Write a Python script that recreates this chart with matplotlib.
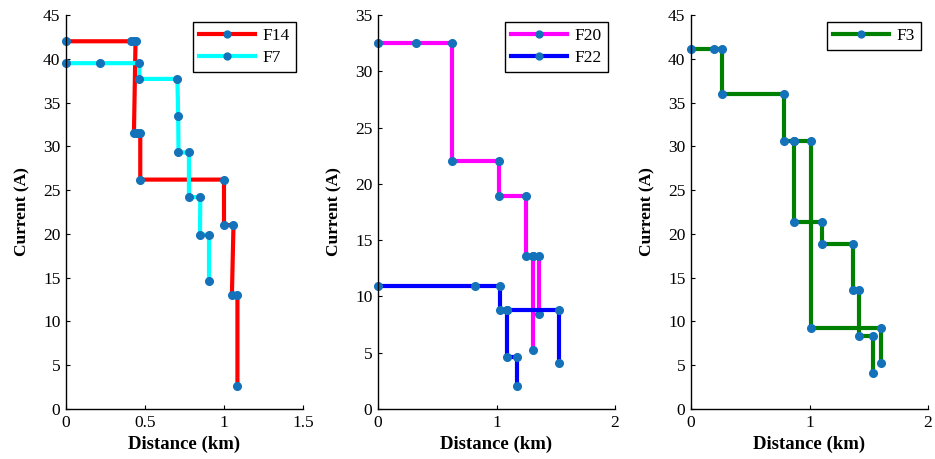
import numpy as np
import matplotlib
matplotlib.use("Agg")
import matplotlib.pyplot as plt

nan = np.nan

# Feeder current profiles: distance along feeder (km) vs. current (A)
f14_x = [0, 0.41, 0.43, 0.44, 0.43, 0.45, 0.47, 0.47, 1.00, 1.00, 1.06, 1.05, 1.085, 1.085]
f14_y = [42.0, 42.0, 42.0, 42.0, 31.5, 31.5, 31.5, 26.2, 26.2, 21.0, 21.0, 13.0, 13.0, 2.6]

f7_x = [0, 0.215, 0.464, 0.464, 0.705, 0.71, 0.712, 0.778, 0.778, 0.85, 0.848, 0.905, 0.905]
f7_y = [39.5, 39.5, 39.5, 37.7, 37.7, 33.5, 29.3, 29.3, 24.2, 24.2, 19.9, 19.9, 14.6]

f20_x = [0, 0.319, 0.621, 0.621, 1.024, 1.024, 1.253, 1.253, 1.312, 1.312, nan, 1.312, 1.357, 1.357]
f20_y = [32.5, 32.5, 32.5, 22.0, 22.0, 18.9, 18.9, 13.6, 13.6, 5.25, nan, 13.6, 13.6, 8.45]

f22_x = [0, 0.815, 1.032, 1.032, 1.086, 1.086, 1.171, 1.171, nan, 1.086, 1.529, 1.529]
f22_y = [10.9, 10.9, 10.9, 8.8, 8.8, 4.6, 4.6, 2.05, nan, 8.8, 8.8, 4.1]

f3_x = [0, 0.192, 0.265, 0.265, 0.786, 0.786, 0.873, 0.873, 1.104, 1.104, 1.369, 1.369,
        1.414, 1.414, 1.532, 1.532, nan, 0.873, 1.011, 1.011, 1.605, 1.605]
f3_y = [41.1, 41.1, 41.1, 35.95, 35.95, 30.6, 30.6, 21.4, 21.4, 18.8, 18.8, 13.6,
        13.6, 8.3, 8.3, 4.1, nan, 30.6, 30.6, 9.2, 9.2, 5.2]

panels = [
    dict(series=[("F14", f14_x, f14_y, "#FF0000"), ("F7", f7_x, f7_y, "#00FFFF")],
         xlim=(0, 1.5), xticks=[0, 0.5, 1, 1.5], xticklabels=["0", "0.5", "1", "1.5"],
         ylim=(0, 45), yticks=range(0, 46, 5)),
    dict(series=[("F20", f20_x, f20_y, "#FF00FF"), ("F22", f22_x, f22_y, "#0000FF")],
         xlim=(0, 2), xticks=[0, 1, 2], xticklabels=["0", "1", "2"],
         ylim=(0, 35), yticks=range(0, 36, 5)),
    dict(series=[("F3", f3_x, f3_y, "#008000")],
         xlim=(0, 2), xticks=[0, 1, 2], xticklabels=["0", "1", "2"],
         ylim=(0, 45), yticks=range(0, 46, 5)),
]

plt.rcParams["font.family"] = ["Liberation Serif", "DejaVu Serif"]
marker_color = "#1372BA"

W, H = 935, 459
fig = plt.figure(figsize=(W / 100, H / 100), dpi=100)
lefts = [66, 378, 691]
ax_w = 237
ax_top, ax_bot = 15, 409

for left, p in zip(lefts, panels):
    ax = fig.add_axes([left / W, (H - ax_bot) / H, ax_w / W, (ax_bot - ax_top) / H])
    for name, xs, ys, col in p["series"]:
        ax.plot(xs, ys, color=col, linewidth=3, marker="o", markersize=5.5,
                markerfacecolor=marker_color, markeredgecolor=marker_color,
                label=name, clip_on=False)
    ax.set_xlim(*p["xlim"])
    ax.set_ylim(*p["ylim"])
    ax.set_xticks(p["xticks"])
    ax.set_xticklabels(p["xticklabels"])
    ax.set_yticks(list(p["yticks"]))
    ax.spines["top"].set_visible(False)
    ax.spines["right"].set_visible(False)
    for s in ("left", "bottom"):
        ax.spines[s].set_linewidth(1.0)
    ax.tick_params(direction="in", length=3, width=0.8, labelsize=12.5, pad=4)
    ax.set_xlabel("Distance (km)", fontsize=13.5, fontweight="bold", labelpad=4)
    ax.set_ylabel("Current (A)", fontsize=12.5, fontweight="bold", labelpad=9)
    leg = ax.legend(loc="upper right", fontsize=12.5, handlelength=3.2,
                    handletextpad=0.45, borderpad=0.35, labelspacing=0.35,
                    borderaxespad=0.4, fancybox=False, framealpha=1,
                    edgecolor="black", numpoints=1, markerscale=0.9)
    leg.get_frame().set_linewidth(1.0)

fig.savefig("out.png", dpi=100)
